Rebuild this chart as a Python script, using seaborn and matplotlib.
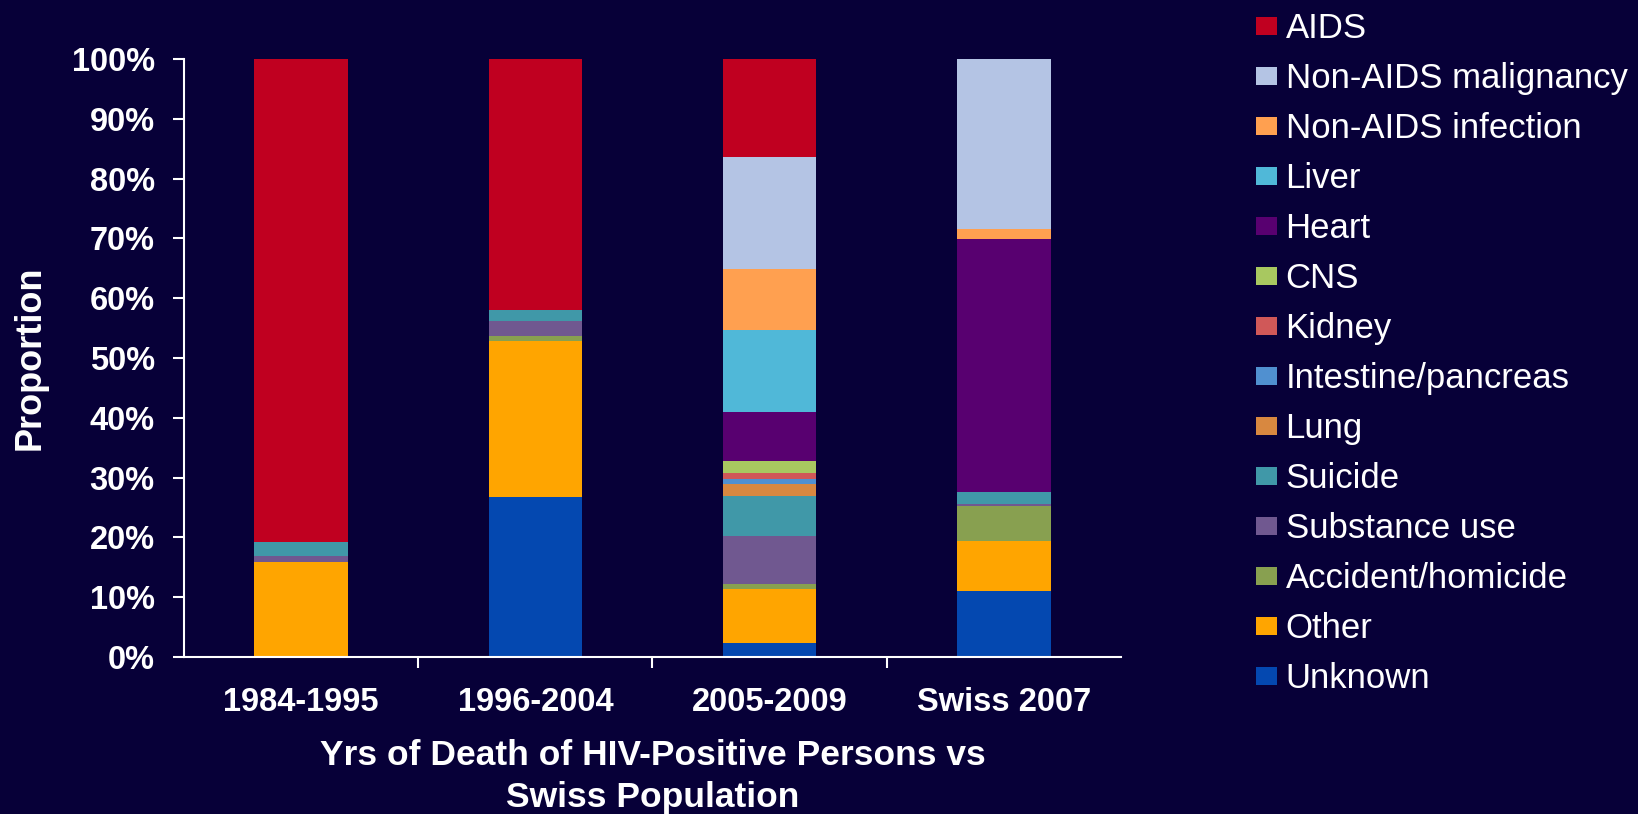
import pandas as pd
import matplotlib
matplotlib.use("Agg")
import matplotlib.pyplot as plt
from matplotlib.patches import Patch
from matplotlib.ticker import FuncFormatter
import seaborn as sns

# ---- data (percent of deaths) ----
periods = ["1984-1995", "1996-2004", "2005-2009", "Swiss 2007"]

# causes listed from top of the stack to the bottom (also legend order)
causes = ["AIDS", "Non-AIDS malignancy", "Non-AIDS infection", "Liver", "Heart",
          "CNS", "Kidney", "Intestine/pancreas", "Lung", "Suicide",
          "Substance use", "Accident/homicide", "Other", "Unknown"]

aids = [80.7, 42.0, 16.4, 0.0]
non_aids_malignancy = [0.0, 0.0, 18.8, 28.5]
non_aids_infection = [0.0, 0.0, 10.1, 1.6]
liver = [0.0, 0.0, 13.8, 0.0]
heart = [0.0, 0.0, 8.2, 42.4]
cns = [0.0, 0.0, 2.0, 0.0]
kidney = [0.0, 0.0, 0.9, 0.0]
intestine = [0.0, 0.0, 0.9, 0.0]
lung = [0.0, 0.0, 2.0, 0.0]
suicide = [2.5, 1.8, 6.6, 2.0]
substance = [0.9, 2.5, 8.1, 0.3]
accident = [0.0, 0.8, 0.8, 5.8]
other = [15.9, 26.2, 9.0, 8.4]
unknown = [0.0, 26.7, 2.4, 11.0]

colors = ["#C00020", "#B4C4E4", "#FFA050", "#50B8D8", "#580070",
          "#A8C860", "#D05858", "#5090D0", "#D88840", "#4098A8",
          "#705890", "#88A050", "#FFA500", "#0448B0"]

series = [aids, non_aids_malignancy, non_aids_infection, liver, heart, cns, kidney,
          intestine, lung, suicide, substance, accident, other, unknown]

rows = []
for cause, vals in zip(causes, series):
    for p, v in zip(periods, vals):
        rows.append({"period": p, "cause": cause, "pct": v})
df = pd.DataFrame(rows)

bg = "#070038"
sns.set_style("white")
plt.rcParams["font.family"] = ["Liberation Sans", "DejaVu Sans"]

fig = plt.figure(figsize=(16.38, 8.14), dpi=100, facecolor=bg)
ax = fig.add_axes([0.1123, 0.193, 0.5721, 0.7345])
ax.set_facecolor(bg)

# stacked bars: histplot with weights, first hue level ends up on top
sns.histplot(data=df, x="period", hue="cause", weights="pct", hue_order=causes,
             palette=dict(zip(causes, colors)), multiple="stack", discrete=True,
             shrink=0.4, alpha=1, linewidth=0, edgecolor="none", legend=False, ax=ax)

ax.set_xlim(-0.5, 3.5)
ax.set_ylim(0, 100)
ax.set_yticks(range(0, 101, 10))
ax.yaxis.set_major_formatter(FuncFormatter(lambda v, pos: "%d%%" % v))
ax.set_xticks(range(4))
ax.set_xticklabels(periods)
ax.set_xticks([0.5, 1.5, 2.5], minor=True)

for s in ["top", "right"]:
    ax.spines[s].set_visible(False)
for s in ["left", "bottom"]:
    ax.spines[s].set_color("white")
    ax.spines[s].set_linewidth(1.5)

ax.tick_params(axis="y", colors="white", length=8, width=1.5, direction="out",
               labelsize=23.5, pad=13, left=True)
ax.tick_params(axis="x", which="major", length=0, colors="white", labelsize=23.5, pad=22)
ax.tick_params(axis="x", which="minor", length=8, width=1.5, color="white",
               direction="out", bottom=True)
for lab in ax.get_xticklabels() + ax.get_yticklabels():
    lab.set_fontweight("bold")

ax.set_ylabel("Proportion", color="white", fontsize=26, fontweight="bold")
ax.yaxis.set_label_coords(-0.145, 0.5)
ax.set_xlabel("Yrs of Death of HIV-Positive Persons vs\nSwiss Population", color="white",
              fontsize=25.5, fontweight="bold", labelpad=15, linespacing=1.32)

handles = [Patch(facecolor=c, edgecolor="none") for c in colors]
fig.legend(handles, causes, loc="upper left", bbox_to_anchor=(0.767, 0.985),
           frameon=False, fontsize=25, labelcolor="white", borderpad=0,
           borderaxespad=0, handlelength=0.6, handleheight=0.43,
           handletextpad=0.24, labelspacing=0.49)

fig.savefig("out.png", dpi=100, facecolor=bg)
